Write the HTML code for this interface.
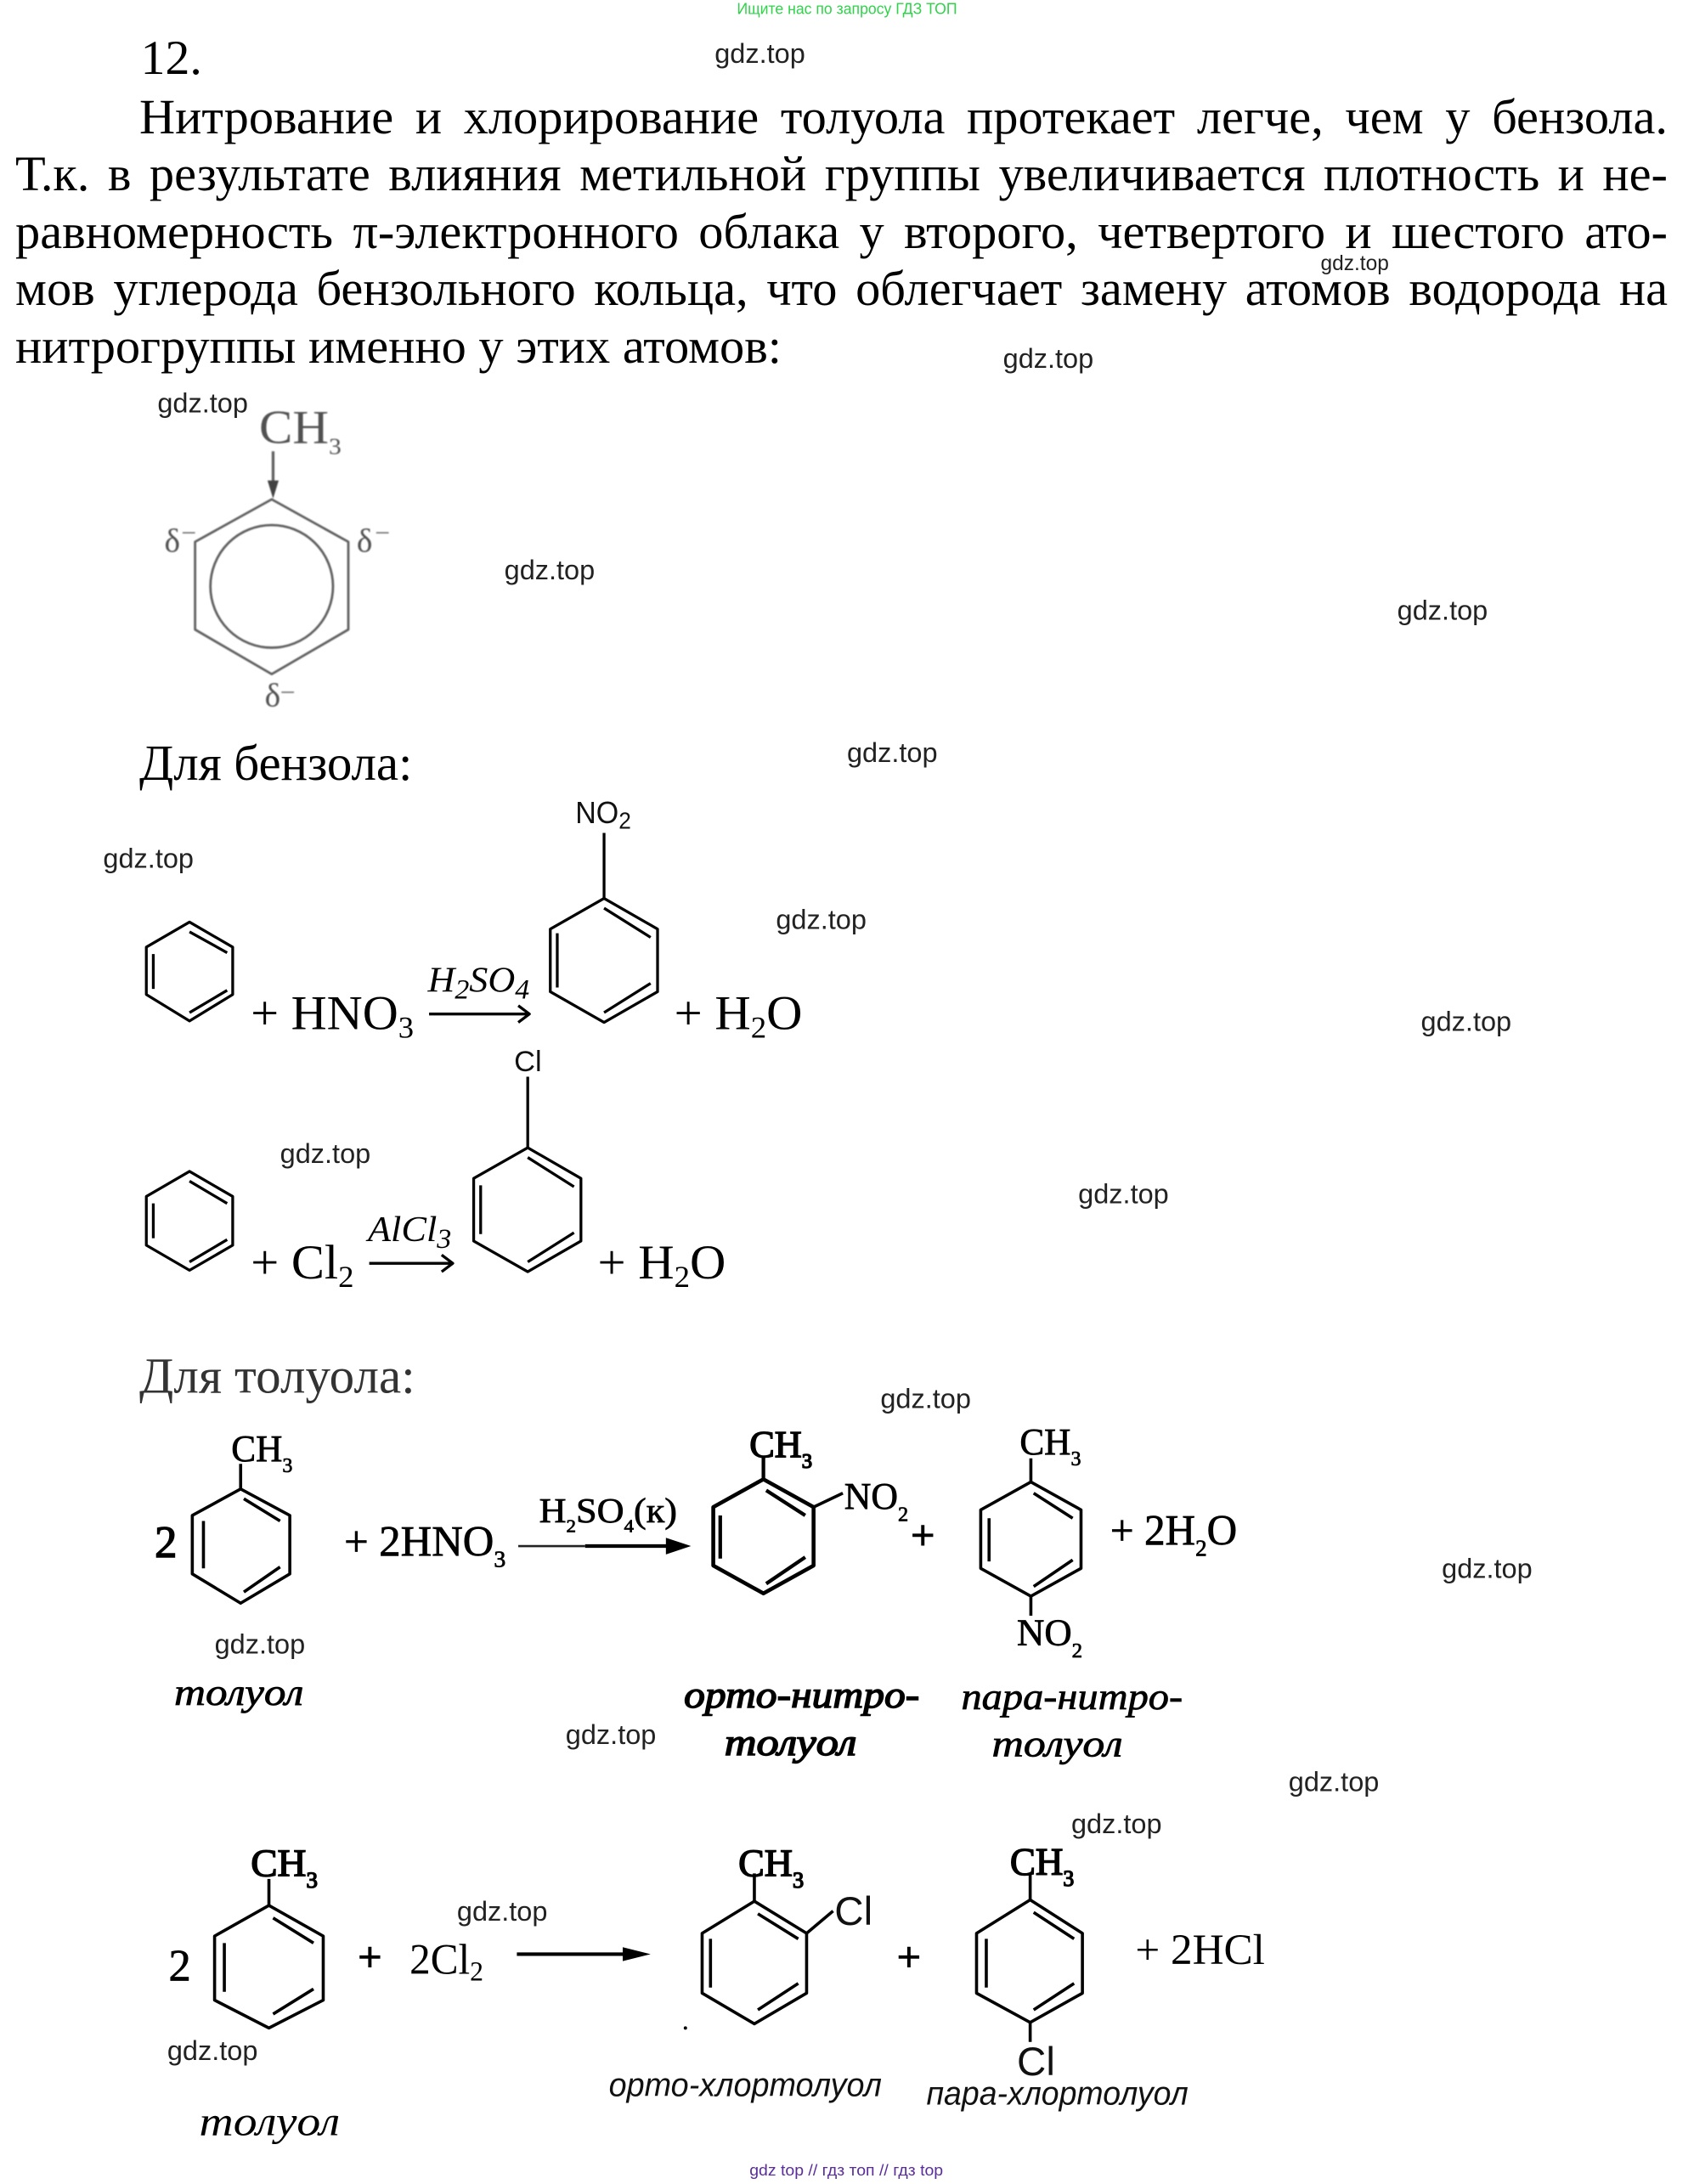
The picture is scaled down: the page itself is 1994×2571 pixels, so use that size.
<!DOCTYPE html>
<html lang="ru">
<head>
<meta charset="utf-8">
<style>
html,body{margin:0;padding:0;background:#fff;}
#p{position:relative;width:1994px;height:2571px;overflow:hidden;background:#fff;}
svg{position:absolute;left:0;top:0;}
.l{position:absolute;font-family:"Liberation Serif",serif;font-size:58.4px;line-height:normal;color:#000;white-space:nowrap;text-align:justify;text-align-last:justify;}
.w{font-family:"Liberation Sans",sans-serif;font-size:20px;fill:#222;}
.s{font-family:"Liberation Serif",serif;fill:#000;}
.a{font-family:"Liberation Sans",sans-serif;fill:#111;}
.i{font-family:"Liberation Serif",serif;font-style:italic;fill:#000;}
.b{stroke:#000;stroke-width:.45;}
.bb{stroke:#000;stroke-width:.9;}
.r{fill:none;stroke:#000;stroke-width:2;stroke-linejoin:round;}
.q{fill:none;stroke:#000;stroke-width:2.2;stroke-linejoin:round;}
</style>
</head>
<body>
<div id="p">
<div class="l" style="left:164px;top:104px;width:1799px;">Нитрование и хлорирование толуола протекает легче, чем у бензола.</div>
<div class="l" style="left:18px;top:171px;width:1945px;">Т.к. в результате влияния метильной группы увеличивается плотность и не-</div>
<div class="l" style="left:18px;top:239px;width:1945px;">равномерность π-электронного облака у второго, четвертого и шестого ато-</div>
<div class="l" style="left:18px;top:306px;width:1945px;">мов углерода бензольного кольца, что облегчает замену атомов водорода на</div>
<div class="l" style="left:18px;top:374px;">нитрогруппы именно у этих атомов:</div>

<svg width="1994" height="2571" viewBox="0 0 1216 1568" xmlns="http://www.w3.org/2000/svg">
<text x="529" y="10" font-family="Liberation Sans, sans-serif" font-size="11" fill="#2fd34a" textLength="158" lengthAdjust="spacingAndGlyphs">Ищите нас по запросу ГДЗ ТОП</text>
<text x="101" y="53" class="s" font-size="35" textLength="44" lengthAdjust="spacingAndGlyphs">12.</text>

<text class="w" x="513" y="45" textLength="65" lengthAdjust="spacingAndGlyphs">gdz.top</text>
<text class="w" x="948" y="194" style="font-size:15px" textLength="49" lengthAdjust="spacingAndGlyphs">gdz.top</text>
<text class="w" x="720" y="264" textLength="65" lengthAdjust="spacingAndGlyphs">gdz.top</text>
<text class="w" x="113" y="296" textLength="65" lengthAdjust="spacingAndGlyphs">gdz.top</text>
<text class="w" x="362" y="416" textLength="65" lengthAdjust="spacingAndGlyphs">gdz.top</text>
<text class="w" x="1003" y="445" textLength="65" lengthAdjust="spacingAndGlyphs">gdz.top</text>
<text class="w" x="608" y="547" textLength="65" lengthAdjust="spacingAndGlyphs">gdz.top</text>
<text class="w" x="74" y="623" textLength="65" lengthAdjust="spacingAndGlyphs">gdz.top</text>
<text class="w" x="557" y="667" textLength="65" lengthAdjust="spacingAndGlyphs">gdz.top</text>
<text class="w" x="1020" y="740" textLength="65" lengthAdjust="spacingAndGlyphs">gdz.top</text>
<text class="w" x="201" y="835" textLength="65" lengthAdjust="spacingAndGlyphs">gdz.top</text>
<text class="w" x="774" y="864" textLength="65" lengthAdjust="spacingAndGlyphs">gdz.top</text>
<text class="w" x="632" y="1011" textLength="65" lengthAdjust="spacingAndGlyphs">gdz.top</text>
<text class="w" x="1035" y="1133" textLength="65" lengthAdjust="spacingAndGlyphs">gdz.top</text>
<text class="w" x="154" y="1187" textLength="65" lengthAdjust="spacingAndGlyphs">gdz.top</text>
<text class="w" x="406" y="1252" textLength="65" lengthAdjust="spacingAndGlyphs">gdz.top</text>
<text class="w" x="925" y="1286" textLength="65" lengthAdjust="spacingAndGlyphs">gdz.top</text>
<text class="w" x="769" y="1316" textLength="65" lengthAdjust="spacingAndGlyphs">gdz.top</text>
<text class="w" x="328" y="1379" textLength="65" lengthAdjust="spacingAndGlyphs">gdz.top</text>
<text class="w" x="120" y="1479" textLength="65" lengthAdjust="spacingAndGlyphs">gdz.top</text>

<!-- fuzzy toluene -->
<g opacity=".85" style="filter:blur(.5px)">
<text x="186" y="318" class="s" font-size="34" style="fill:#333" textLength="59" lengthAdjust="spacingAndGlyphs">CH<tspan font-size="17" dy="8">3</tspan></text>
<path d="M196 324V346" stroke="#444" stroke-width="2"/>
<path d="M192 345L200 345L196 358Z" fill="#222"/>
<polygon class="r" style="stroke:#444;stroke-width:1.7" points="195,358.5 250,389 250,452 195,484 140,452 140,389"/>
<circle cx="195" cy="421" r="44" fill="none" stroke="#444" stroke-width="1.7"/>
<text x="118" y="396" class="s" font-size="24" style="fill:#333">δ</text>
<path d="M131 382.5H140M270 382.5H279M202 497H211" stroke="#555" stroke-width="1"/>
<text x="256" y="396" class="s" font-size="24" style="fill:#333">δ</text>
<text x="190" y="507" class="s" font-size="24" style="fill:#333">δ</text>
</g>

<text x="100" y="560" class="s" font-size="36" textLength="196">Для бензола:</text>

<!-- benzene 1 -->
<polygon class="r" points="136,662 167,680 167,714 136,733 105,714 105,680"/>
<path class="r" d="M136 669L163 684M136 727L163 711M110 685V710" stroke-width="1.5"/>
<text x="180" y="739" class="s" font-size="35" textLength="117" lengthAdjust="spacingAndGlyphs">+ HNO<tspan font-size="22" dy="6">3</tspan></text>
<text x="307" y="712" class="i" font-size="26" textLength="73" lengthAdjust="spacingAndGlyphs">H<tspan font-size="20" dy="5">2</tspan><tspan dy="-5">SO</tspan><tspan font-size="20" dy="5">4</tspan></text>
<path d="M308 728H379M372 722L380 728L372 734" class="r"/>
<polygon class="r" points="433.6,645 472,667 472,712 433.6,734 395,712 395,667"/>
<path class="r" d="M433.6 598V645M433.6 652L467 673M433.6 727L467 706M400 670V709"/>
<text x="413" y="591" class="a" font-size="22" textLength="40" lengthAdjust="spacingAndGlyphs">NO<tspan font-size="17" dy="4">2</tspan></text>
<text x="484" y="739" class="s" font-size="35" textLength="92" lengthAdjust="spacingAndGlyphs">+ H<tspan font-size="22" dy="6">2</tspan><tspan dy="-6">O</tspan></text>

<!-- benzene 2 -->
<polygon class="r" points="136,841 167,859 167,894 136,912 105,894 105,859"/>
<path class="r" d="M136 848L163 864M136 906L163 890M110 864V889"/>
<text x="180" y="918" class="s" font-size="35" textLength="74" lengthAdjust="spacingAndGlyphs">+ Cl<tspan font-size="22" dy="6">2</tspan></text>
<text x="264" y="891" class="i" font-size="26" textLength="60" lengthAdjust="spacingAndGlyphs">AlCl<tspan font-size="20" dy="5">3</tspan></text>
<path d="M265 907H324M317 901L325 907L317 913" class="r"/>
<polygon class="r" points="378.8,824 417,846 417,891 378.8,913 340,891 340,846"/>
<path class="r" d="M378.8 773V824M378.8 831L412 852M378.8 906L412 885M345 851V886"/>
<text x="369" y="769" class="a" font-size="21">Cl</text>
<text x="429" y="918" class="s" font-size="35" textLength="92" lengthAdjust="spacingAndGlyphs">+ H<tspan font-size="22" dy="6">2</tspan><tspan dy="-6">O</tspan></text>

<text x="100" y="1000" class="s" font-size="36" textLength="198" style="fill:#333">Для толуола:</text>

<!-- nitration toluene -->
<text x="111" y="1118" class="s bb" font-size="32">2</text>
<polygon class="q" points="172.7,1069 208,1088 208,1130 172.7,1151 138,1130 138,1088"/>
<path class="q" d="M172.7 1051V1069M175 1076L201 1092M175 1143L201 1125M146 1092V1126"/>
<text x="166" y="1049" class="s b" font-size="27" textLength="44" lengthAdjust="spacingAndGlyphs">CH<tspan font-size="15" dy="8">3</tspan></text>
<text x="247" y="1117" class="s b" font-size="31" textLength="116" lengthAdjust="spacingAndGlyphs">+ 2HNO<tspan font-size="17" dy="8">3</tspan></text>
<text x="387" y="1093" class="s b" font-size="25" textLength="99" lengthAdjust="spacingAndGlyphs">H<tspan font-size="13" dy="7">2</tspan><tspan dy="-7">SO</tspan><tspan font-size="13" dy="7">4</tspan><tspan dy="-7">(к)</tspan></text>
<path d="M372 1110H420" stroke="#222" stroke-width="1.6"/>
<path d="M420 1110H483" stroke="#000" stroke-width="2.6"/>
<path d="M478 1104L496 1110L478 1116Z" fill="#000"/>

<polygon class="q" style="stroke-width:2.8" points="548,1062 584,1082 584,1124 548,1144 512,1124 512,1082"/>
<path class="q" d="M548 1045V1062M550 1070L578 1088M550 1137L578 1118M517 1088V1119" style="stroke-width:2.6"/>
<path class="q" d="M584 1082L605 1072"/>
<text x="538" y="1046" class="s bb" font-size="27" textLength="45" lengthAdjust="spacingAndGlyphs">CH<tspan font-size="15" dy="8">3</tspan></text>
<text x="606" y="1083" class="s b" font-size="27" textLength="46" lengthAdjust="spacingAndGlyphs">NO<tspan font-size="15" dy="9">2</tspan></text>
<text x="654" y="1112" class="s bb" font-size="30">+</text>

<polygon class="q" points="740,1064 776,1084 776,1126 740,1146 704,1126 704,1084"/>
<path class="q" d="M740 1047V1064M742 1072L770 1090M742 1139L770 1120M710 1090V1121M740 1146V1160"/>
<text x="732" y="1044" class="s b" font-size="27" textLength="44" lengthAdjust="spacingAndGlyphs">CH<tspan font-size="15" dy="8">3</tspan></text>
<text x="730" y="1181" class="s b" font-size="27" textLength="47" lengthAdjust="spacingAndGlyphs">NO<tspan font-size="15" dy="9">2</tspan></text>
<text x="797" y="1109" class="s b" font-size="31" textLength="91" lengthAdjust="spacingAndGlyphs">+ 2H<tspan font-size="17" dy="8">2</tspan><tspan dy="-8">O</tspan></text>

<text x="125" y="1224" class="i b" font-size="27" textLength="93" lengthAdjust="spacingAndGlyphs">толуол</text>
<text x="491" y="1226" class="i bb" font-size="27" textLength="169" lengthAdjust="spacingAndGlyphs">орто-нитро-</text>
<text x="520" y="1260" class="i bb" font-size="27" textLength="95" lengthAdjust="spacingAndGlyphs">толуол</text>
<text x="690" y="1227" class="i b" font-size="27" textLength="159" lengthAdjust="spacingAndGlyphs">пара-нитро-</text>
<text x="712" y="1261" class="i b" font-size="27" textLength="94" lengthAdjust="spacingAndGlyphs">толуол</text>

<!-- chlorination toluene -->
<text x="121" y="1422" class="s b" font-size="32">2</text>
<polygon class="q" points="193,1368 232,1390 232,1436 193,1456 154,1436 154,1390"/>
<path class="q" d="M193 1349V1368M196 1377L225 1395M196 1446L225 1428M161 1395V1430"/>
<text x="180" y="1347" class="s bb" font-size="28" textLength="48" lengthAdjust="spacingAndGlyphs">CH<tspan font-size="16" dy="8">3</tspan></text>
<text x="257" y="1415" class="s bb" font-size="30">+</text>
<text x="294" y="1417" class="s" font-size="31" textLength="53" lengthAdjust="spacingAndGlyphs">2Cl<tspan font-size="20" dy="5">2</tspan></text>
<path d="M371 1403H456" stroke="#000" stroke-width="2.5"/>
<path d="M447 1398L467 1403L447 1408Z" fill="#000"/>

<polygon class="q" points="541.5,1365 579,1388 579,1431 541.5,1453 504,1431 504,1388"/>
<path class="q" d="M541.5 1345V1365M544 1374L573 1392M544 1443L573 1424M510 1392V1427M579 1388L598 1372"/>
<text x="530" y="1347" class="s bb" font-size="28" textLength="47" lengthAdjust="spacingAndGlyphs">CH<tspan font-size="16" dy="8">3</tspan></text>
<text x="599" y="1382" class="a" font-size="29">Cl</text>
<text x="644" y="1415" class="s bb" font-size="30">+</text>
<circle cx="492" cy="1456" r="1.2" fill="#000"/>

<polygon class="q" points="739.5,1364 777,1388 777,1431 739.5,1452 701,1431 701,1388"/>
<path class="q" d="M739.5 1345V1364M742 1373L771 1392M742 1443L771 1424M708 1392V1427M739.5 1452V1466"/>
<text x="725" y="1346" class="s bb" font-size="28" textLength="46" lengthAdjust="spacingAndGlyphs">CH<tspan font-size="16" dy="8">3</tspan></text>
<text x="730" y="1490" class="a" font-size="29">Cl</text>
<text x="815" y="1410" class="s" font-size="31" textLength="93" lengthAdjust="spacingAndGlyphs">+ 2HCl</text>

<text x="437" y="1505" class="a" font-size="24" font-style="italic" textLength="196" lengthAdjust="spacingAndGlyphs">орто-хлортолуол</text>
<text x="665" y="1511" class="a" font-size="24" font-style="italic" textLength="188" lengthAdjust="spacingAndGlyphs">пара-хлортолуол</text>
<text x="143" y="1533" class="i" font-size="30" textLength="101" lengthAdjust="spacingAndGlyphs">толуол</text>

<text x="538" y="1562" font-family="Liberation Sans, sans-serif" font-size="11" fill="#5a2d9c" textLength="139" lengthAdjust="spacingAndGlyphs">gdz top  //  гдз топ  //  гдз top</text>
</svg>
</div>
</body>
</html>
